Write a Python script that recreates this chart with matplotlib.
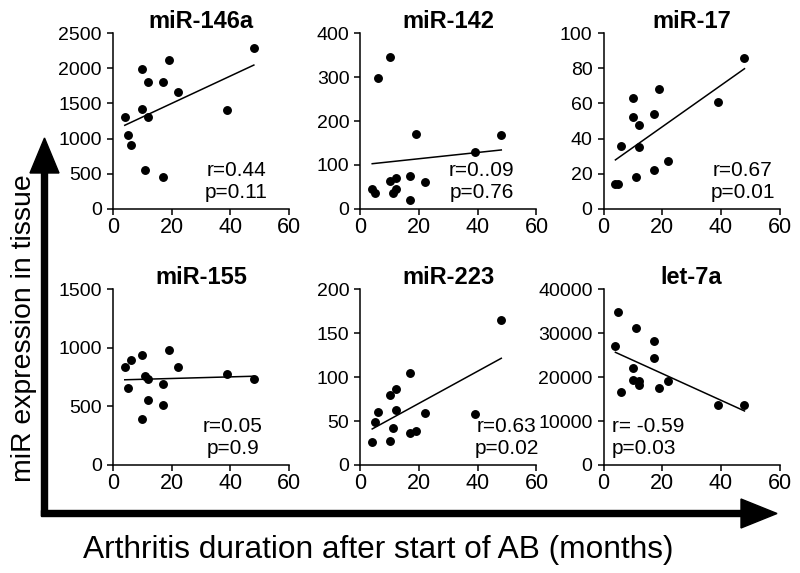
import matplotlib.pyplot as plt
import numpy as np
from matplotlib.patches import FancyArrow

plt.rcParams['font.family'] = ['Liberation Sans', 'DejaVu Sans']

# months after start of AB (same patients in every panel)
months = [4, 5, 6, 10, 10, 11, 12, 12, 17, 17, 19, 22, 39, 48]

titles = ['miR-146a', 'miR-142', 'miR-17', 'miR-155', 'miR-223', 'let-7a']

mir146a = [1300, 1050, 915, 1990, 1420, 560, 1800, 1305, 1800, 460, 2120, 1665, 1400, 2290]
mir142 = [45, 36, 297, 345, 64, 36, 45, 70, 76, 20, 171, 62, 130, 169]
mir17 = [14, 14, 36, 63, 52, 18, 48, 35, 54, 22, 68, 27, 61, 86]
mir155 = [834, 655, 896, 939, 393, 760, 731, 558, 692, 512, 982, 834, 774, 734]
mir223 = [26, 49, 60, 80, 27, 42, 86, 63, 105, 36, 39, 59, 58, 165]
let7a = [27100, 34840, 16700, 22010, 19350, 31120, 19200, 18290, 28240, 24440, 17610, 19200, 13590, 13660]
values = [mir146a, mir142, mir17, mir155, mir223, let7a]

y_max = [2500, 400, 100, 1500, 200, 40000]
y_step = [500, 100, 20, 500, 50, 10000]
x_ticks = [0, 20, 40, 60]

r_labels = ['r=0.44', 'r=0..09', 'r=0.67', 'r=0.05', 'r=0.63', 'r= -0.59']
p_labels = ['p=0.11', 'p=0.76', 'p=0.01', 'p=0.9', 'p=0.02', 'p=0.03']

fig = plt.figure(figsize=(8, 5.73), dpi=100)

# axes boxes in figure fractions
lefts = [0.1413, 0.4506, 0.7546]
bottoms = [0.6353, 0.1885]
w, h = 0.22, 0.307

# where the r/p text sits (axes fraction), and alignment
stat_x = [0.70, 0.69, 0.79, 0.68, 0.83, 0.045]
stat_ha = ['center', 'center', 'center', 'center', 'center', 'left']

for i in range(6):
    ax = fig.add_axes([lefts[i % 3], bottoms[i // 3], w, h])
    x = np.array(months)
    y = np.array(values[i])
    ax.plot(x, y, 'o', color='black', ms=5.4, mec='black', clip_on=False, zorder=3)

    # linear regression line
    k, b = np.polyfit(x, y, 1)
    xl = np.array([x.min(), x.max()])
    ax.plot(xl, k * xl + b, color='black', lw=1.1)

    ax.set_xlim(0, 60)
    ax.set_ylim(0, y_max[i])
    ax.set_xticks(x_ticks)
    ax.set_yticks(np.arange(0, y_max[i] + 1, y_step[i]))
    ax.spines['top'].set_visible(False)
    ax.spines['right'].set_visible(False)
    ax.spines['left'].set_linewidth(1.1)
    ax.spines['bottom'].set_linewidth(1.1)
    ax.tick_params(axis='y', labelsize=14, length=4, width=1.1, pad=4)
    ax.tick_params(axis='x', labelsize=15.5, length=4, width=1.1, pad=2)
    ax.set_title(titles[i], fontsize=17, fontweight='bold', pad=4)

    ax.text(stat_x[i], 0.19, r_labels[i], transform=ax.transAxes, fontsize=15,
            ha=stat_ha[i], va='baseline')
    ax.text(stat_x[i], 0.06, p_labels[i], transform=ax.transAxes, fontsize=15,
            ha=stat_ha[i], va='baseline')

# big arrows drawn on a pixel-space overlay
ov = fig.add_axes([0, 0, 1, 1], zorder=-1)
ov.set_xlim(0, 800)
ov.set_ylim(573, 0)
ov.axis('off')
ov.add_patch(FancyArrow(44.5, 516, 0, 138 - 516, width=6, head_width=29, head_length=35,
                        length_includes_head=True, color='black'))
ov.add_patch(FancyArrow(41.5, 513.5, 777 - 41.5, 0, width=6, head_width=29, head_length=36,
                        length_includes_head=True, color='black'))

fig.text(0.473, 0.026, 'Arthritis duration after start of AB (months)', fontsize=22.8,
         ha='center', va='baseline')
fig.text(0.0306, 0.4267, 'miR expression in tissue', fontsize=20.4, rotation=90,
         ha='center', va='center')

plt.savefig('out.png', dpi=100)
